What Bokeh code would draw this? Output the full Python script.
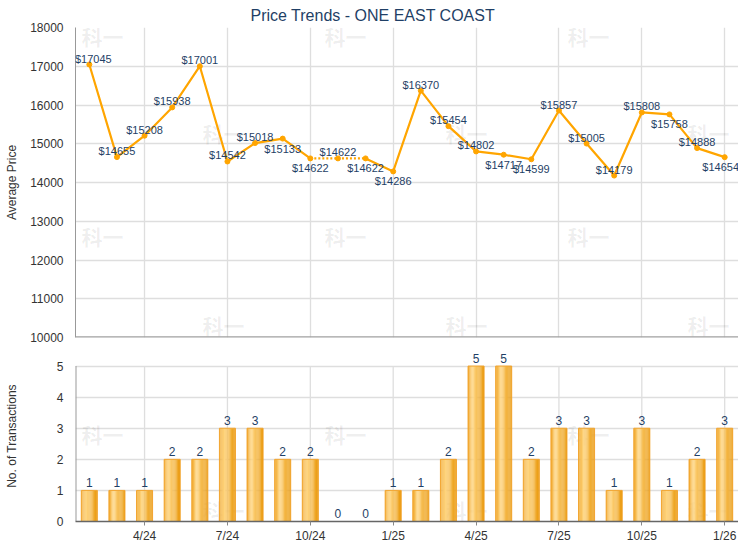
import numpy as np
from bokeh.plotting import figure
from bokeh.layouts import column
from bokeh.models import (ColumnDataSource, LabelSet, Label, FixedTicker, Range1d, Span)
from bokeh.core.properties import value
from bokeh.embed import file_html
from bokeh.resources import INLINE

# ---------------- data ----------------
months = ["2/24", "3/24", "4/24", "5/24", "6/24", "7/24", "8/24", "9/24", "10/24", "11/24", "12/24",
          "1/25", "2/25", "3/25", "4/25", "5/25", "6/25", "7/25", "8/25", "9/25", "10/25", "11/25",
          "12/25", "1/26"]
avg_price = [17045, 14655, 15208, 15938, 17001, 14542, 15018, 15133, 14622, 14622, 14622,
             14286, 16370, 15454, 14802, 14717, 14599, 15857, 15005, 14179, 15808, 15758,
             14888, 14654]
transactions = [1, 1, 1, 2, 2, 3, 3, 2, 2, 0, 0, 1, 1, 2, 5, 5, 2, 3, 3, 1, 3, 1, 2, 3]
tick_labels = ["4/24", "7/24", "10/24", "1/25", "4/25", "7/25", "10/25", "1/26"]
price_ticks = [10000, 11000, 12000, 13000, 14000, 15000, 16000, 17000, 18000]
count_ticks = [0, 1, 2, 3, 4, 5]
title_text = "Price Trends - ONE EAST COAST"
# label placement (style): a = above point, b = below point
label_side = ["a", "a", "a", "a", "a", "a", "a", "b", "b", "a", "b", "b",
              "a", "a", "a", "b", "b", "a", "a", "a", "a", "b", "a", "b"]

FONT = "Liberation Sans"
NAVY = "#1F3F66"
ORANGE = "#FFA500"
GRID = "#DEDEDE"
TXT = "#333333"

idx = list(range(len(months)))
tick_idx = [months.index(t) for t in tick_labels]
overrides = {i: months[i] for i in tick_idx}
x_start, x_end = -0.5, len(months) - 0.5

W = 738
common = dict(width=W, output_backend="svg", toolbar_location=None,
              x_range=Range1d(x_start, x_end), min_border_left=75, min_border_right=0)


def style_yaxis(p, label, label_standoff):
    ax = p.yaxis[0]
    ax.axis_label = label
    ax.axis_label_text_font = FONT
    ax.axis_label_text_font_size = "12px"
    ax.axis_label_text_font_style = "normal"
    ax.axis_label_text_color = TXT
    ax.axis_label_standoff = label_standoff
    ax.major_label_text_font = FONT
    ax.major_label_text_font_size = "12px"
    ax.major_label_text_color = TXT
    ax.major_label_standoff = 12
    ax.major_tick_out = 0
    ax.major_tick_in = 0
    ax.minor_tick_out = 0
    ax.minor_tick_in = 0
    ax.axis_line_color = "#999999"


def add_watermarks(p, positions):
    for (sx, sy) in positions:
        p.add_layout(Label(x=sx, y=sy, x_units="screen", y_units="screen", text="科一",
                           text_font="Noto Sans CJK SC", text_font_style="bold",
                           text_font_size="21px", text_color="#000000", text_alpha=0.07,
                           text_align="center", text_baseline="middle", level="underlay"))


# ---------------- top: price line ----------------
p1 = figure(height=345, y_range=Range1d(price_ticks[0], price_ticks[-1]),
            min_border_top=0, min_border_bottom=8, **common)
p1.title.text = title_text
p1.title.align = "left"
p1.title.offset = 175
p1.title.standoff = 8
p1.title.text_font = FONT
p1.title.text_font_size = "16px"
p1.title.text_font_style = "normal"
p1.title.text_color = NAVY
p1.outline_line_color = None
p1.xaxis.visible = False
p1.xgrid.ticker = FixedTicker(ticks=tick_idx)
p1.yaxis.ticker = FixedTicker(ticks=price_ticks)
style_yaxis(p1, "Average Price", 8)
p1.xgrid.grid_line_color = GRID
p1.ygrid.grid_line_color = GRID
p1.xgrid.grid_line_width = 1.3
p1.ygrid.grid_line_width = 1.3
p1.add_layout(Span(location=price_ticks[0], dimension="width", line_color="#A0A0A0", line_width=2.5))

add_watermarks(p1, [(27, 302), (270, 302), (513, 302), (27, 102), (270, 102), (513, 102),
                    (148, 205), (391, 205), (633, 205), (148, 13), (391, 13), (633, 13)])

solid_xs, solid_ys, dot_xs, dot_ys = [], [], [], []
for i in range(len(idx) - 1):
    seg_x = [idx[i], idx[i + 1]]
    seg_y = [avg_price[i], avg_price[i + 1]]
    if transactions[i + 1] == 0:
        dot_xs.append(seg_x); dot_ys.append(seg_y)
    else:
        solid_xs.append(seg_x); solid_ys.append(seg_y)
p1.multi_line(solid_xs, solid_ys, line_color=ORANGE, line_width=2.2, line_join="round", line_cap="round")
p1.multi_line(dot_xs, dot_ys, line_color=ORANGE, line_width=2.2, line_dash="2 2")
p1.scatter(idx, avg_price, size=5, color=ORANGE)

# keep the end labels inside the plot frame (frame clips annotations)
x_off = [4 if i == idx[0] else (-4 if i == idx[-1] else 0) for i in idx]
src1 = ColumnDataSource(dict(
    x=idx, y=avg_price,
    txt=["$%d" % v for v in avg_price],
    off=[6 if s == "a" else -10 for s in label_side],
    xoff=x_off))
p1.add_layout(LabelSet(x="x", y="y", text="txt", source=src1, y_offset="off", x_offset="xoff",
                       text_font=value(FONT), text_font_size=value("11px"), text_color=NAVY,
                       text_align="center", text_baseline="middle"))

# ---------------- bottom: transactions bars ----------------
y2_top = count_ticks[-1] + 0.5   # head-room for the value labels
p2 = figure(height=200, y_range=Range1d(count_ticks[0], y2_top),
            min_border_top=5, min_border_bottom=24, **common)
p2.outline_line_color = None
p2.xaxis.ticker = FixedTicker(ticks=tick_idx)
p2.xaxis.major_label_overrides = overrides
p2.xaxis.major_label_text_font = FONT
p2.xaxis.major_label_text_font_size = "12px"
p2.xaxis.major_label_text_color = TXT
p2.xaxis.major_label_standoff = 3
p2.xaxis.major_tick_out = 4
p2.xaxis.major_tick_in = 0
p2.xaxis.major_tick_line_color = "#888888"
p2.xaxis.minor_tick_out = 0
p2.xaxis.axis_line_color = "#666666"
p2.xaxis.axis_line_width = 1.5
p2.yaxis.ticker = FixedTicker(ticks=count_ticks)
style_yaxis(p2, "No. of Transactions", 35)
p2.yaxis.axis_line_color = None
p2.xgrid.visible = False
p2.ygrid.grid_line_color = GRID
p2.ygrid.grid_line_width = 1.3
# vertical grid lines and y-axis line limited to the 0..5 band
p2.segment(x0=tick_idx, y0=[count_ticks[0]] * len(tick_idx), x1=tick_idx,
           y1=[count_ticks[-1]] * len(tick_idx), line_color=GRID, line_width=1.3, level="underlay")
p2.segment(x0=[x_start], y0=[count_ticks[0]], x1=[x_start], y1=[count_ticks[-1]],
           line_color="#999999", line_width=2)

add_watermarks(p2, [(27, 88), (270, 88), (513, 88), (148, 12), (391, 12), (633, 12)])

# gradient bars built from strips
bar_w = 0.58
n_strips = 14
stops = [(0.0, (240, 166, 40)), (0.3, (255, 214, 130)), (1.0, (232, 150, 6))]


def grad(t):
    for (t0, c0), (t1, c1) in zip(stops[:-1], stops[1:]):
        if t0 <= t <= t1:
            f = (t - t0) / (t1 - t0)
            return "#%02x%02x%02x" % tuple(int(round(a + (b - a) * f)) for a, b in zip(c0, c1))
    return "#%02x%02x%02x" % stops[-1][1]


sw = bar_w / n_strips
for k in range(n_strips):
    t = (k + 0.5) / n_strips
    off = -bar_w / 2 + (k + 0.5) * sw
    p2.vbar(x=[i + off for i in idx], top=transactions, bottom=0, width=sw * 1.05,
            fill_color=grad(t), line_color=None)
p2.vbar(x=idx, top=transactions, bottom=0, width=bar_w, fill_color=None,
        line_color="#F2A530", line_width=1)

src2 = ColumnDataSource(dict(x=idx, y=transactions, txt=[str(v) for v in transactions]))
p2.add_layout(LabelSet(x="x", y="y", text="txt", source=src2, y_offset=8,
                       text_font=value(FONT), text_font_size=value("12px"), text_color=NAVY,
                       text_align="center", text_baseline="middle"))

layout = column(p1, p2, spacing=0)
open("out.html", "w").write(file_html(layout, INLINE))
